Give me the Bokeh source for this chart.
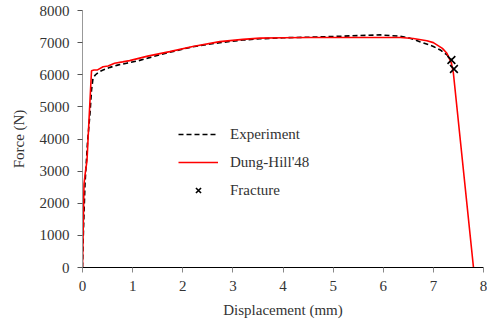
from bokeh.plotting import figure
from bokeh.models import Range1d, Legend, LegendItem, FixedTicker
from bokeh.embed import file_html
from bokeh.resources import INLINE

# Experiment (dashed black)
exp_x = [0.0, 0.02, 0.05, 0.10, 0.15, 0.18, 0.21, 0.26, 0.32, 0.41, 0.55, 0.70, 0.88, 1.1, 1.4,
         1.74, 2.2, 2.74, 3.2, 3.54, 4.0, 4.54, 5.0, 5.5, 5.94, 6.34, 6.55, 6.73, 6.88, 7.0, 7.15, 7.27, 7.38]
exp_y = [0, 1200, 2600, 3900, 4800, 5520, 5900, 6000, 6080, 6150, 6230, 6300, 6360, 6430, 6560,
         6700, 6870, 7000, 7080, 7120, 7150, 7170, 7190, 7220, 7240, 7200, 7130, 7030, 6950, 6880, 6760, 6620, 6430]

# Dung-Hill'48 simulation (solid red)
sim_x = [0.0, 0.03, 0.06, 0.09, 0.13, 0.16, 0.18, 0.23, 0.30, 0.41, 0.51, 0.64, 0.80, 0.94, 1.3,
         1.74, 2.2, 2.74, 3.2, 3.54, 4.0, 4.54, 5.0, 5.5, 6.0, 6.34, 6.6, 6.87, 7.0, 7.07, 7.18, 7.27, 7.36, 7.40, 7.80]
sim_y = [0, 2600, 3000, 3330, 4600, 5520, 6125, 6150, 6150, 6250, 6270, 6360, 6400, 6440, 6580,
         6720, 6880, 7030, 7100, 7140, 7150, 7160, 7160, 7160, 7160, 7160, 7130, 7060, 7000, 6930, 6820, 6670, 6360, 6040, 0]

# Fracture points
frac_x = [7.36, 7.41]
frac_y = [6460, 6180]

x_ticks = [0, 1, 2, 3, 4, 5, 6, 7, 8]
y_ticks = [0, 1000, 2000, 3000, 4000, 5000, 6000, 7000, 8000]

FONT = "Liberation Serif"
TXT = "#333333"

p = figure(width=487, height=320, output_backend="svg", toolbar_location=None,
           x_range=Range1d(0, 8), y_range=Range1d(0, 8000),
           min_border_left=82, min_border_right=4, min_border_top=10, min_border_bottom=53)
p.outline_line_color = None
p.xgrid.visible = False
p.ygrid.visible = False
p.background_fill_color = "white"
p.border_fill_color = "white"

r_exp = p.line(exp_x, exp_y, line_color="black", line_width=1.6, line_dash="5 3")
r_sim = p.line(sim_x, sim_y, line_color="#ff0000", line_width=1.6)
r_frac = p.scatter(frac_x, frac_y, marker="x", size=11, line_color="black", line_width=1.6)

for ax in (p.xaxis[0], p.yaxis[0]):
    ax.major_label_text_font = FONT
    ax.major_label_text_font_size = "15px"
    ax.major_label_text_color = TXT
    ax.axis_label_text_font = FONT
    ax.axis_label_text_font_size = "15px"
    ax.axis_label_text_font_style = "normal"
    ax.axis_label_text_color = TXT
    ax.minor_tick_line_color = None
    ax.major_tick_in = 0
    ax.major_tick_out = 5
    ax.major_label_standoff = 8

p.xaxis.ticker = FixedTicker(ticks=x_ticks)
p.yaxis.ticker = FixedTicker(ticks=y_ticks)
p.xaxis.axis_label = "Displacement (mm)"
p.yaxis.axis_label = "Force (N)"
p.xaxis.axis_line_color = "black"
p.xaxis.major_tick_line_color = "#888888"
p.yaxis.axis_line_color = "#999999"
p.yaxis.major_tick_line_color = "#555555"
p.xaxis.axis_label_standoff = 8
p.yaxis.axis_label_standoff = 10

legend = Legend(items=[
    LegendItem(label="Experiment", renderers=[r_exp]),
    LegendItem(label="Dung-Hill'48", renderers=[r_sim]),
    LegendItem(label="Fracture", renderers=[r_frac]),
], location=(96, 68))
legend.border_line_color = None
legend.background_fill_alpha = 0
legend.label_text_font = FONT
legend.label_text_font_size = "15px"
legend.label_text_color = TXT
legend.glyph_width = 40
legend.glyph_height = 18
legend.label_standoff = 12
legend.spacing = 10
legend.padding = 4
legend.margin = 0
p.add_layout(legend, "center")

open("out.html", "w").write(file_html(p, INLINE))
